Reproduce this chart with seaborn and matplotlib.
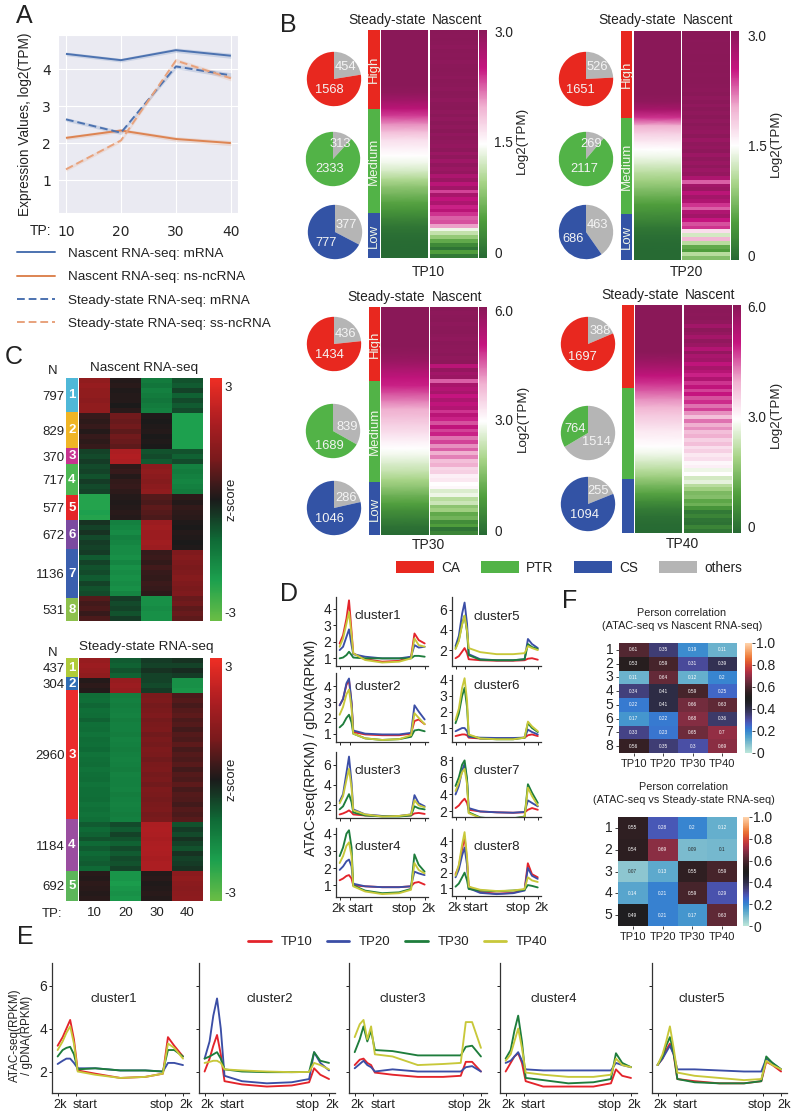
import numpy as np
import pandas as pd
import seaborn as sns
import matplotlib.pyplot as plt
from matplotlib.colors import LinearSegmentedColormap
from matplotlib.lines import Line2D
from matplotlib.patches import Patch

sns.set_style('white')
plt.rcParams['font.family'] = ['Liberation Sans', 'DejaVu Sans']
plt.rcParams['text.color'] = '#222222'
plt.rcParams['axes.labelcolor'] = '#222222'
plt.rcParams['xtick.color'] = '#222222'
plt.rcParams['ytick.color'] = '#222222'

W, H = 800, 1118

### Panel A ###
tp_values = [10, 20, 30, 40]
a_nascent_mrna = [4.41, 4.24, 4.51, 4.36]
a_nascent_ncrna = [2.14, 2.34, 2.11, 2.0]
a_steady_mrna = [2.64, 2.28, 4.07, 3.83]
a_steady_ncrna = [1.29, 2.07, 4.23, 3.75]
a_band = [0.05, 0.05, 0.06, 0.07]
a_labels = ['Nascent RNA-seq: mRNA', 'Nascent RNA-seq: ns-ncRNA',
            'Steady-state RNA-seq: mRNA', 'Steady-state RNA-seq: ss-ncRNA']

### Panel B ###
tp_names = ['TP10', 'TP20', 'TP30', 'TP40']
# [others, coloured] per expression tier (High, Medium, Low)
b_pies = {
    'TP10': [[454, 1568], [313, 2333], [377, 777]],
    'TP20': [[526, 1651], [269, 2117], [463, 686]],
    'TP30': [[436, 1434], [839, 1689], [286, 1046]],
    'TP40': [[388, 1697], [1514, 764], [255, 1094]],
}
b_max = {'TP10': 3.0, 'TP20': 3.0, 'TP30': 6.0, 'TP40': 6.0}
b_steady = {
    'TP10': [3, 3, 3, 3, 3, 3, 3, 3, 2.95, 2.8, 2.6, 2.35, 2.1, 1.9, 1.7, 1.6, 1.5, 1.4, 1.25, 1.05,
             0.85, 0.7, 0.55, 0.4, 0.25, 0.12, 0.05, 0.02, 0, 0],
    'TP20': [3, 3, 3, 3, 3, 3, 3, 3, 3, 2.95, 2.75, 2.4, 2.0, 1.8, 1.65, 1.5, 1.4, 1.25, 1.1, 0.95,
             0.8, 0.65, 0.5, 0.38, 0.25, 0.12, 0.05, 0.02, 0, 0],
    'TP30': [6, 6, 6, 6, 6, 6, 5.9, 5.7, 5.4, 5.1, 4.9, 4.6, 4.3, 4.0, 3.8, 3.6, 3.4, 3.2, 3.0, 2.8,
             2.55, 2.3, 2.0, 1.7, 1.35, 1.05, 0.7, 0.4, 0.15, 0],
    'TP40': [6, 6, 6, 6, 6, 6, 6, 5.75, 5.45, 5.1, 4.8, 4.5, 4.2, 3.95, 3.7, 3.5, 3.3, 3.15, 3.0, 2.8,
             2.5, 2.2, 1.85, 1.45, 1.1, 0.7, 0.35, 0.12, 0.03, 0],
}
b_nascent = {
    'TP10': [3.0, 2.98, 3.0, 2.98, 2.96, 3.0, 2.98, 3.0, 2.96, 2.98, 3.0, 2.98, 2.96, 3.0, 2.98,
             2.96, 3.0, 2.98, 2.95, 2.98, 3.0, 2.95, 2.98, 2.93, 2.98, 2.95, 3.0, 2.92, 2.97, 2.94,
             2.9, 2.96, 2.85, 2.93, 2.82, 2.92, 2.85, 2.9, 2.7, 2.85, 2.6, 2.8, 2.35, 2.75, 2.55,
             2.7, 2.45, 2.6, 2.4, 2.25, 2.3, 2.05, 1.4, 1.15, 0.9, 0.6, 0.3, 0.1, 0.5, 0.15],
    'TP20': [3.0, 3.0, 2.98, 3.0, 3.0, 2.98, 3.0, 3.0, 2.98, 3.0, 3.0, 2.98, 3.0, 3.0, 2.98,
             2.97, 3.0, 2.95, 2.98, 2.94, 2.98, 2.95, 2.98, 2.94, 2.98, 2.95, 2.9, 2.97, 2.87, 2.95,
             2.9, 2.96, 2.84, 2.93, 2.87, 2.94, 2.84, 2.9, 2.7, 2.25, 2.78, 2.85, 2.6, 2.78, 2.68,
             2.4, 2.25, 2.68, 2.8, 2.5, 2.3, 2.4, 1.7, 1.25, 1.95, 1.1, 0.6, 0.5, 1.1, 0.8],
    'TP30': [6.0, 5.95, 5.97, 6.0, 5.92, 5.97, 6.0, 5.95, 5.9, 5.97, 5.95, 5.92, 5.97, 5.9, 5.95,
             5.2, 5.8, 5.6, 5.7, 4.5, 5.5, 5.3, 5.5, 5.0, 5.4, 5.1, 5.3, 4.8, 5.2, 4.9,
             4.6, 5.1, 4.7, 4.9, 4.4, 4.7, 4.2, 4.5, 4.0, 4.3, 3.8, 4.0, 3.5, 3.6, 3.2,
             3.3, 3.0, 3.1, 2.6, 2.8, 2.2, 2.4, 1.7, 1.9, 1.2, 1.4, 0.7, 1.0, 0.2, 0.5],
    'TP40': [5.95, 5.97, 5.95, 5.97, 5.9, 5.6, 5.95, 5.8, 5.55, 5.88, 5.7, 5.3, 5.8, 5.45, 5.6,
             5.1, 5.5, 5.25, 4.9, 5.35, 4.8, 5.1, 4.7, 5.0, 4.6, 4.85, 4.4, 4.7, 4.2, 3.8,
             4.4, 4.0, 4.2, 3.8, 4.0, 3.6, 3.8, 3.4, 3.6, 3.3, 3.4, 3.1, 3.2, 2.8, 3.0,
             2.5, 2.7, 2.2, 1.9, 1.5, 1.6, 1.15, 1.35, 0.8, 0.3, 0.5, 0.2, 0.15, 0.5, 0.25],
}
b_cmap_colors = ['#276a33', '#4f9e3c', '#a8d488', '#ffffff', '#f0b0d0', '#c6147f', '#8a1858']

### Panel C ###
c_nascent_n = [797, 829, 370, 717, 577, 672, 1136, 531]
c_nascent_tp10 = [1.4, 1.5, 1.4, 1.4, 1.3, 1.4, 1.4, 0.3, 0.2, 0.3, 0.1, 0.3, 0.2, 0.3,
                  -0.5, -0.6, -0.4, -0.6, -0.5, -0.7, -0.4, -0.6, -0.5, -2.1, -2.1, -2.1, -2.0, -2.1,
                  -0.3, -0.5, -0.3, -0.6, -0.4, -0.5, -0.4, -0.8, -0.5, -0.7, -0.6, -0.8, -0.5, -0.7, -0.6,
                  0.6, 0.4, 0.5, 0.3, 0.5]
c_nascent_tp20 = [0.1, 0.15, 0.05, 0.1, 0.1, 0.0, 0.15, 0.9, 0.8, 0.9, 0.7, 0.9, 0.8, 0.7,
                  1.9, 2.0, 1.9, 0.2, 0.3, 0.1, 0.25, 0.3, 0.2, 0.1, 0.05, 0.1, 0.15, 0.1,
                  -1.4, -1.5, -1.6, -1.4, -1.5, -1.6, -1.6, -1.7, -1.5, -1.7, -1.6, -1.7, -1.6, -1.7, -1.5,
                  -0.4, -0.6, -0.5, -0.7, -0.4]
c_nascent_tp30 = [-1.3, -1.2, -1.4, -1.3, -1.2, -1.3, -1.4, 0.05, 0.0, 0.05, 0.1, 0.0, 0.05, 0.0,
                  -0.7, -0.6, -0.8, 1.3, 1.4, 1.3, 1.2, 1.3, 1.4, 0.6, 0.5, 0.7, 0.6, 0.5,
                  1.6, 1.7, 1.6, 1.6, 1.7, 1.6, 0.3, 0.35, 0.25, 0.4, 0.3, 0.25, 0.35, 0.3, 0.2,
                  -1.7, -1.7, -1.6, -1.7, -1.7]
c_nascent_tp40 = [-0.7, -0.8, -0.5, -0.9, -0.6, -0.8, -0.6, -2.0, -2.0, -2.0, -2.0, -2.0, -2.0, -2.0,
                  -0.7, -0.9, -0.6, -1.4, -1.3, -1.4, -1.5, -1.4, -1.3, 0.2, 0.1, 0.25, 0.2, 0.15,
                  0.05, 0.0, 0.1, 0.05, 0.0, 0.05, 1.1, 1.2, 1.1, 1.0, 1.1, 1.2, 1.1, 1.0, 1.1,
                  0.8, 0.9, 0.7, 0.8, 0.7]
c_nascent_colors = ['#4fb8d8', '#f0b525', '#c7338f', '#4cb752', '#e42527', '#7b4aa0', '#3a5fae', '#8dc04c']

c_steady_n = [437, 304, 2960, 1184, 692]
c_steady_tp10 = [1.5, 1.6, 1.5, 1.4, 0.1, 0.2, 0.1,
                 -1.05, -1.1, -0.95, -1.1, -1.05, -0.9, -1.1, -1.05, -1.15, -1.05, -1.1, -1.0, -1.15,
                 -1.1, -1.05, -1.15, -1.1, -1.05, -1.15, -1.1, -1.1, -1.05, -1.15, -1.1, -1.15, -1.1,
                 -0.8, -1.0, -0.9, -0.7, -1.0, -0.8, -1.0, -0.9, -0.8, -1.0,
                 0.15, 0.1, 0.2, 0.15, 0.1, 0.15]
c_steady_tp20 = [-0.8, -0.9, -0.7, -0.9, 1.5, 1.6, 1.5,
                 -1.35, -1.4, -1.35, -1.4, -1.45, -1.35, -1.4, -1.4, -1.35, -1.45, -1.4, -1.35, -1.4,
                 -1.45, -1.4, -1.35, -1.45, -1.4, -1.4, -1.45, -1.35, -1.4, -1.45, -1.4, -1.35, -1.4,
                 -0.6, -0.8, -0.5, -0.7, -0.9, -0.6, -0.8, -0.6, -0.7, -0.5,
                 -1.8, -1.8, -1.9, -1.8, -1.7, -1.8]
c_steady_tp30 = [-0.4, -0.5, -0.3, -0.5, -0.5, -0.6, -0.4,
                 1.0, 1.05, 0.95, 1.0, 1.1, 0.95, 1.0, 1.05, 0.9, 1.0, 0.95, 1.05, 1.0,
                 0.9, 1.0, 1.05, 0.95, 1.0, 0.9, 1.05, 1.0, 0.95, 1.0, 1.05, 0.95, 1.0,
                 1.9, 1.95, 1.9, 1.85, 1.9, 1.95, 1.9, 1.85, 1.9, 1.9,
                 0.1, 0.15, 0.05, 0.1, 0.15, 0.1]
c_steady_tp40 = [-0.3, -0.5, -0.2, -0.4, -1.7, -1.7, -1.8,
                 0.5, 0.6, 0.45, 0.6, 0.7, 0.5, 0.6, 0.4, 0.6, 0.5, 0.7, 0.45, 0.6,
                 0.5, 0.65, 0.4, 0.6, 0.5, 0.7, 0.45, 0.6, 0.55, 0.4, 0.6, 0.5, 0.65,
                 -0.7, -0.4, -0.6, -0.3, -0.5, -0.7, -0.3, -0.5, -0.4, -0.3,
                 1.3, 1.4, 1.3, 1.25, 1.3, 1.35]
c_steady_colors = ['#b0cb3a', '#2f6db4', '#ea2c2c', '#9a4ea0', '#5cb65a']
c_cmap_colors = ['#6abd45', '#1ca04e', '#0f6a36', '#1a1a1a', '#7a1a1c', '#b01e22', '#ee2e24']

### Panels D and E: x is percent along the scaled region ###
d_profile_x = [0, 4, 8, 11, 14, 16, 30, 50, 70, 84, 88, 93, 100]
e_profile_x = [0, 4, 7, 10, 13, 16, 30, 50, 70, 84, 88, 93, 100]
tp_colors = ['#e3242b', '#3b4ea6', '#1e7d3c', '#c8c83a']

d_cluster1 = [[1.9, 2.4, 3.4, 4.5, 2.6, 1.3, 0.95, 0.8, 0.85, 1.1, 2.5, 2.1, 1.9],
              [1.5, 1.7, 2.3, 2.75, 1.8, 1.25, 1.1, 1.0, 1.0, 1.1, 1.8, 1.65, 1.7],
              [1.0, 1.05, 1.2, 1.4, 1.2, 1.05, 1.0, 1.0, 1.0, 1.0, 1.15, 1.15, 1.1],
              [1.7, 2.2, 3.1, 3.8, 2.4, 1.3, 0.9, 0.75, 0.8, 1.0, 2.2, 1.8, 1.7]]
d_cluster2 = [[2.8, 3.2, 4.1, 4.4, 2.9, 1.1, 0.95, 0.9, 0.9, 1.0, 1.8, 1.9, 1.6],
              [2.8, 3.2, 4.2, 4.5, 3.0, 1.2, 1.0, 0.95, 0.95, 1.05, 2.8, 2.4, 1.9],
              [1.4, 1.6, 2.0, 2.2, 1.7, 1.0, 0.7, 0.6, 0.65, 0.8, 1.2, 1.25, 1.15],
              [2.2, 2.7, 3.5, 3.8, 2.6, 1.0, 0.7, 0.6, 0.65, 0.9, 2.3, 2.0, 1.6]]
d_cluster3 = [[1.1, 1.2, 1.35, 1.5, 1.3, 1.1, 1.0, 0.95, 0.95, 1.0, 1.2, 1.25, 1.15],
              [2.4, 3.1, 5.2, 6.8, 4.2, 1.6, 1.1, 0.95, 0.95, 1.1, 3.0, 2.2, 1.9],
              [1.6, 1.9, 2.6, 3.1, 2.3, 1.3, 1.0, 0.9, 0.9, 1.0, 1.9, 1.7, 1.6],
              [2.2, 2.9, 4.5, 5.6, 3.7, 1.5, 1.1, 0.9, 0.95, 1.1, 2.5, 2.0, 1.8]]
d_cluster4 = [[1.3, 1.4, 1.55, 1.6, 1.4, 1.0, 0.95, 0.9, 0.9, 0.95, 1.15, 1.2, 1.05],
              [1.9, 2.1, 2.4, 2.5, 2.1, 1.1, 0.95, 0.9, 0.9, 0.95, 1.8, 1.7, 1.6],
              [2.7, 3.2, 4.0, 4.2, 3.2, 1.0, 0.7, 0.55, 0.6, 0.8, 2.8, 2.2, 1.8],
              [2.3, 2.7, 3.3, 3.5, 2.7, 0.95, 0.65, 0.5, 0.55, 0.75, 2.3, 1.9, 1.7]]
d_cluster5 = [[1.2, 1.4, 1.85, 2.2, 1.7, 1.1, 1.0, 0.95, 0.95, 1.0, 1.15, 1.2, 1.05],
              [2.4, 3.4, 5.6, 6.7, 4.6, 1.6, 1.1, 1.0, 1.0, 1.1, 3.1, 2.6, 2.2],
              [2.2, 3.0, 4.6, 5.4, 3.8, 1.5, 1.05, 1.0, 1.0, 1.1, 2.6, 2.3, 2.1],
              [2.1, 2.9, 4.5, 5.4, 3.9, 2.2, 1.8, 1.6, 1.6, 1.7, 2.4, 2.2, 2.0]]
d_cluster6 = [[0.5, 0.55, 0.6, 0.6, 0.55, 0.4, 0.35, 0.35, 0.35, 0.4, 0.55, 0.6, 0.5],
              [0.8, 0.9, 1.0, 1.0, 0.8, 0.45, 0.4, 0.38, 0.38, 0.4, 0.9, 0.75, 0.6],
              [1.3, 1.9, 3.0, 3.5, 2.3, 0.55, 0.35, 0.3, 0.3, 0.4, 1.3, 1.0, 0.75],
              [1.5, 2.2, 3.5, 4.1, 2.7, 0.6, 0.35, 0.3, 0.3, 0.4, 1.4, 1.1, 0.8]]
d_cluster7 = [[2.4, 2.7, 3.2, 3.5, 3.0, 2.2, 2.0, 1.9, 1.85, 1.9, 2.2, 2.4, 2.2],
              [4.0, 5.0, 6.8, 7.6, 5.6, 2.4, 2.0, 1.9, 1.85, 1.95, 3.3, 3.0, 2.6],
              [5.0, 6.0, 7.5, 8.0, 5.8, 1.9, 1.3, 1.1, 1.2, 1.4, 5.2, 4.2, 3.0],
              [4.4, 5.4, 6.6, 7.0, 5.2, 1.8, 1.25, 1.05, 1.15, 1.35, 4.8, 3.8, 2.7]]
d_cluster8 = [[1.9, 2.4, 3.5, 4.3, 2.8, 1.1, 0.75, 0.65, 0.7, 0.9, 2.6, 1.9, 1.7],
              [1.7, 2.2, 3.1, 3.6, 2.5, 1.0, 0.7, 0.62, 0.68, 0.85, 2.3, 1.8, 1.6],
              [1.1, 1.3, 1.7, 2.0, 1.5, 0.95, 0.85, 0.8, 0.85, 0.9, 1.2, 1.15, 1.05],
              [1.8, 2.5, 3.8, 4.6, 3.0, 1.1, 0.9, 0.82, 0.85, 0.95, 1.7, 1.5, 1.4]]

e_cluster1 = [[3.2, 3.6, 4.0, 4.4, 3.5, 2.05, 1.9, 1.7, 1.75, 1.9, 3.6, 3.2, 2.7],
              [2.35, 2.5, 2.6, 2.6, 2.4, 2.15, 2.15, 2.05, 2.05, 2.0, 2.4, 2.4, 2.3],
              [2.7, 3.0, 3.1, 3.15, 2.8, 2.1, 2.15, 2.05, 2.05, 2.0, 3.0, 3.0, 2.7],
              [3.0, 3.4, 3.8, 4.1, 3.3, 2.0, 1.85, 1.7, 1.75, 1.9, 3.3, 3.1, 2.6]]
e_cluster2 = [[2.0, 2.6, 3.2, 3.7, 2.8, 1.55, 1.4, 1.3, 1.35, 1.5, 2.15, 1.85, 1.65],
              [2.6, 3.4, 4.6, 5.4, 4.0, 1.8, 1.55, 1.45, 1.5, 1.65, 2.9, 2.4, 2.05],
              [2.6, 2.7, 2.8, 2.9, 2.6, 2.1, 2.0, 1.97, 1.97, 1.98, 2.9, 2.5, 2.4],
              [2.4, 2.45, 2.5, 2.5, 2.4, 2.1, 2.05, 2.0, 1.97, 1.98, 2.4, 2.3, 2.1]]
e_cluster3 = [[2.3, 2.55, 2.6, 2.4, 2.3, 1.95, 1.85, 1.75, 1.75, 1.8, 2.45, 2.45, 2.0],
              [2.15, 2.35, 2.5, 2.3, 2.2, 2.0, 2.1, 2.0, 2.0, 2.0, 2.2, 2.25, 2.0],
              [2.9, 3.5, 4.1, 3.4, 3.9, 3.0, 2.95, 2.75, 2.75, 2.75, 3.15, 3.2, 2.7],
              [3.6, 4.2, 4.4, 3.5, 4.1, 2.8, 2.7, 2.3, 2.35, 2.4, 4.3, 4.3, 3.1]]
e_cluster4 = [[2.0, 2.4, 2.7, 2.85, 2.4, 1.55, 1.3, 1.3, 1.3, 1.45, 2.1, 1.8, 1.7],
              [2.4, 2.5, 2.7, 2.9, 2.5, 2.1, 2.05, 2.05, 2.05, 2.05, 2.4, 2.3, 2.2],
              [2.6, 3.0, 3.9, 4.6, 3.4, 1.7, 1.6, 1.45, 1.5, 1.65, 2.85, 2.4, 2.2],
              [2.5, 2.8, 3.4, 4.0, 3.1, 1.95, 1.85, 1.75, 1.75, 1.85, 2.6, 2.3, 2.2]]
e_cluster5 = [[2.3, 2.6, 3.0, 3.3, 2.8, 1.65, 1.55, 1.45, 1.45, 1.55, 2.45, 2.3, 2.0],
              [2.3, 2.6, 2.9, 3.2, 2.8, 2.1, 2.1, 2.05, 2.0, 2.0, 2.6, 2.4, 2.1],
              [2.3, 2.7, 3.2, 3.6, 2.9, 1.65, 1.5, 1.45, 1.45, 1.55, 2.7, 2.4, 2.1],
              [2.3, 2.8, 3.4, 4.1, 3.1, 1.95, 1.8, 1.7, 1.6, 1.65, 2.5, 2.3, 2.1]]

### Panel F ###
f_nascent = [[0.61, 0.35, 0.19, 0.11], [0.53, 0.59, 0.31, 0.39], [0.11, 0.64, 0.12, 0.2],
             [0.34, 0.41, 0.59, 0.25], [0.22, 0.41, 0.66, 0.63], [0.17, 0.22, 0.68, 0.36],
             [0.33, 0.23, 0.65, 0.7], [0.56, 0.35, 0.3, 0.69]]
f_steady = [[0.55, 0.28, 0.2, 0.12], [0.54, 0.69, 0.09, 0.1], [0.07, 0.13, 0.55, 0.59],
            [0.14, 0.21, 0.59, 0.29], [0.49, 0.21, 0.17, 0.63]]


def add_ax(left, top, right, bottom):
    # axes from a pixel box measured from the top left of the figure
    return fig.add_axes([left / W, 1 - bottom / H, (right - left) / W, (bottom - top) / H])


def px_text(x, y, s, **kw):
    kw.setdefault('ha', 'center')
    kw.setdefault('va', 'center')
    return fig.text(x / W, 1 - y / H, s, **kw)


def stacked_tiers(ax, sizes, colors):
    # vertical stack of coloured blocks, each as tall as its count
    ax.bar([0] * len(sizes), sizes, bottom=np.cumsum([0] + list(sizes[:-1])), width=1, color=colors,
           edgecolor='none', linewidth=0)
    ax.set_xlim(-0.5, 0.5)
    ax.set_ylim(sum(sizes), 0)
    ax.set_xticks([])
    ax.set_frame_on(False)


fig = plt.figure(figsize=(W / 100, H / 100), dpi=100)

for letter, x, y in [('A', 24, 16), ('B', 288, 25), ('C', 14, 357), ('D', 289, 594), ('E', 25, 937), ('F', 570, 601)]:
    px_text(x, y, letter, fontsize=18)

### Panel A ###
with sns.axes_style('darkgrid'):
    ax_a = add_ax(58, 35, 238, 213)
a_series = [a_nascent_mrna, a_nascent_ncrna, a_steady_mrna, a_steady_ncrna]
a_colors = ['#4c72b0', '#dd8452', '#4c72b0', '#e8a27c']
a_df = pd.DataFrame({'TP': tp_values * 4, 'value': sum(a_series, []),
                     'series': np.repeat(a_labels, 4)})
sns.lineplot(data=a_df, x='TP', y='value', hue='series', style='series', palette=dict(zip(a_labels, a_colors)),
             dashes=dict(zip(a_labels, [(1, 0), (1, 0), (4, 2), (4, 2)])), errorbar=None, legend=False,
             linewidth=1.4, ax=ax_a)
for vals, c in zip(a_series, a_colors):
    ax_a.fill_between(tp_values, np.array(vals) - a_band, np.array(vals) + a_band, color=c, alpha=0.2, lw=0)
ax_a.set(xlim=(8.55, 41.3), ylim=(0.11, 4.92), xticks=tp_values, yticks=[1, 2, 3, 4], xlabel='', ylabel='')
ax_a.tick_params(labelsize=10, length=0, pad=5)
ax_a.tick_params(axis='x', pad=9)
px_text(25, 124, 'Expression Values, log2(TPM)', rotation=90, fontsize=9.8)
px_text(41, 231, 'TP:', fontsize=10)
a_handles = [Line2D([], [], color=c, lw=1.4, ls=ls) for c, ls in zip(a_colors, ['-', '-', (0, (4, 2)), (0, (4, 2))])]
fig.legend(a_handles, a_labels, loc='upper left', bbox_to_anchor=(14 / W, 1 - 245 / H), frameon=False, fontsize=9.7,
           handlelength=2.85, handletextpad=0.95, labelspacing=0.8, borderpad=0.2, borderaxespad=0)

### Panel B ###
b_layout = {
    'TP10': dict(bar=(368, 380), ss=(381, 428), na=(430, 478), cb=(479, 487), y=(30, 258),
                 pies=[(334, 79), (333, 159), (335, 232)], steady=387, nascent=457, head=20,
                 ticks=(33, 143, 254), tickx=494, labx=522, laby=140, name=(428, 272)),
    'TP20': dict(bar=(621, 632), ss=(634, 681), na=(682, 730), cb=(731, 739), y=(31, 260),
                 pies=[(586, 79), (586, 159), (586, 232)], steady=637, nascent=708, head=20,
                 ticks=(37, 147, 257), tickx=748, labx=776, laby=143, name=(686, 272)),
    'TP30': dict(bar=(369, 380), ss=(381, 429), na=(430, 478), cb=(479, 487), y=(307, 535),
                 pies=[(334, 344), (333, 431), (334, 508)], steady=386, nascent=457, head=297,
                 ticks=(312, 421, 532), tickx=494, labx=523, laby=418, name=(428, 545)),
    'TP40': dict(bar=(622, 634), ss=(635, 682), na=(684, 732), cb=(733, 741), y=(305, 533),
                 pies=[(588, 344), (588, 433), (588, 504)], steady=640, nascent=710, head=295,
                 ticks=(308, 418, 528), tickx=747, labx=776, laby=414, name=(682, 544)),
}
b_offsets = {
    'TP10': [[(0.44, 0.44), (-0.16, -0.4)], [(0.27, 0.57), (-0.12, -0.36)], [(0.41, 0.27), (-0.34, -0.41)]],
    'TP20': [[(0.41, 0.44), (-0.19, -0.4)], [(0.2, 0.57), (-0.05, -0.36)], [(0.41, 0.27), (-0.46, -0.25)]],
    'TP30': [[(0.42, 0.37), (-0.16, -0.41)], [(0.52, 0.15), (-0.12, -0.54)], [(0.44, 0.37), (-0.16, -0.39)]],
    'TP40': [[(0.44, 0.47), (-0.19, -0.49)], [(0.31, -0.34), (-0.47, 0.16)], [(0.36, 0.46), (-0.14, -0.42)]],
}
tier_colors = ['#e8281f', '#52b347', '#3353a5']
other_color = '#b5b5b5'
tier_names = ['High', 'Medium', 'Low']
b_cmap = LinearSegmentedColormap.from_list('tpm', b_cmap_colors)

for tp in tp_names:
    lay = b_layout[tp]
    top, bottom = lay['y']
    vmax = b_max[tp]

    # pies, others first going clockwise from 12 o'clock
    for i, counts in enumerate(b_pies[tp]):
        cx, cy = lay['pies'][i]
        ax_p = add_ax(cx - 28, cy - 28, cx + 28, cy + 28)
        ax_p.pie(counts, colors=[other_color, tier_colors[i]], startangle=90, counterclock=False,
                 wedgeprops={'linewidth': 0, 'edgecolor': 'none'})
        ax_p.set(xlim=(-1.03, 1.03), ylim=(-1.03, 1.03))
        for val, (dx, dy) in zip(counts, b_offsets[tp][i]):
            ax_p.text(dx, dy, str(val), color='#f4f4f4', fontsize=9.3, ha='center', va='center')

    # tier bar, tiers are as tall as the gene counts
    tier_sizes = [sum(c) for c in b_pies[tp]]
    ax_bar = add_ax(lay['bar'][0], top, lay['bar'][1], bottom)
    stacked_tiers(ax_bar, tier_sizes, tier_colors)
    ax_bar.set_yticks([])
    if tp != 'TP40':
        for name, mid in zip(tier_names, np.cumsum(tier_sizes) - np.array(tier_sizes) / 2):
            ax_bar.text(0, mid, name, rotation=90, color='#eef5e8', fontsize=9.5, ha='center', va='center')

    # steady-state column is smooth, nascent column is streaky
    ax_ss = add_ax(lay['ss'][0], top, lay['ss'][1], bottom)
    ss = np.column_stack([b_steady[tp], b_steady[tp]])
    sns.heatmap(ss, ax=ax_ss, cmap=b_cmap, vmin=0, vmax=vmax, cbar=False, xticklabels=False, yticklabels=False,
                shading='gouraud')
    ax_ss.set(xlim=(0, 1), ylim=(ss.shape[0] - 1, 0))

    ax_na = add_ax(lay['na'][0], top, lay['na'][1], bottom)
    ax_cb = add_ax(lay['cb'][0], top, lay['cb'][1], bottom)
    sns.heatmap(np.array(b_nascent[tp]).reshape(-1, 1), ax=ax_na, cmap=b_cmap, vmin=0, vmax=vmax, cbar_ax=ax_cb,
                xticklabels=False, yticklabels=False)
    ax_cb.set_yticks([])
    for yy, lab in zip(lay['ticks'], [f'{vmax:.1f}', f'{vmax / 2:.1f}', '0']):
        px_text(lay['tickx'], yy, lab, ha='left', fontsize=9.8)

    px_text(lay['steady'], lay['head'], 'Steady-state', fontsize=9.9)
    px_text(lay['nascent'], lay['head'], 'Nascent', fontsize=9.9)
    px_text(lay['labx'], lay['laby'], 'Log2(TPM)', rotation=90, fontsize=9.6)
    px_text(lay['name'][0], lay['name'][1], tp, fontsize=10)

b_handles = [Patch(facecolor=c, edgecolor='none') for c in tier_colors + [other_color]]
fig.legend(b_handles, ['CA', 'PTR', 'CS', 'others'], loc='center', bbox_to_anchor=(569 / W, 1 - 568 / H), ncol=4,
           frameon=False, fontsize=9.8, handlelength=2.8, handleheight=1.0, handletextpad=0.55, columnspacing=1.5,
           borderpad=0, borderaxespad=0)

### Panel C ###
z_cmap = LinearSegmentedColormap.from_list('zscore', c_cmap_colors)


def cluster_heatmap(top, bottom, title, title_x, title_y, n_y, counts, colors, columns, show_tp):
    ax_bar = add_ax(66, top, 78, bottom)
    stacked_tiers(ax_bar, counts, colors)
    mids = np.cumsum(counts) - np.array(counts) / 2
    ax_bar.set_yticks(mids, [str(n) for n in counts], fontsize=9.5)
    ax_bar.tick_params(axis='y', length=0, pad=1)
    for i, mid in enumerate(mids):
        ax_bar.text(0, mid, str(i + 1), color='white', fontsize=9.5, fontweight='bold', ha='center', va='center')

    ax_hm = add_ax(79, top, 203, bottom)
    ax_cb = add_ax(210, top, 222, bottom)
    sns.heatmap(np.array(columns).T, ax=ax_hm, cmap=z_cmap, vmin=-3, vmax=3, cbar_ax=ax_cb,
                xticklabels=tp_values if show_tp else False, yticklabels=False)
    ax_hm.tick_params(axis='x', length=0, pad=4, labelsize=9.5)
    ax_cb.set_yticks([2.8, -2.8], ['3', '-3'], fontsize=9.5)
    ax_cb.tick_params(axis='y', length=0, pad=2)
    px_text(232, (top + bottom) / 2, 'z-score', rotation=90, fontsize=9.5)
    px_text(title_x, title_y, title, fontsize=9.7)
    px_text(53, n_y, 'N', fontsize=9.5)


cluster_heatmap(378, 621, 'Nascent RNA-seq', 144, 368, 371, c_nascent_n, c_nascent_colors,
                [c_nascent_tp10, c_nascent_tp20, c_nascent_tp30, c_nascent_tp40], False)
cluster_heatmap(658, 901, 'Steady-state RNA-seq', 146, 647, 653, c_steady_n, c_steady_colors,
                [c_steady_tp10, c_steady_tp20, c_steady_tp30, c_steady_tp40], True)
px_text(52, 914, 'TP:', fontsize=9.5)


def profile_axes(box, profile_x, lines, ylim, yticks, xlim, ticks, show_y=True):
    ax = add_ax(*box)
    for vals, c in zip(lines, tp_colors):
        sns.lineplot(x=profile_x, y=vals, color=c, linewidth=1.35, errorbar=None, ax=ax)
    ax.set(xlim=xlim, ylim=ylim, xlabel='', ylabel='')
    ax.set_yticks(yticks)
    if not show_y:
        ax.set_yticklabels([])
    ax.set_xticks(ticks)
    ax.set_xticklabels([])
    ax.tick_params(axis='both', which='major', length=2, width=0.7, pad=1.5, left=True, bottom=True)
    sns.despine(ax=ax)
    for side in ['left', 'bottom']:
        ax.spines[side].set_linewidth(0.9)
        ax.spines[side].set_color('#333333')
    return ax


def bottom_labels(ax, positions, size):
    ax.set_xticks(positions, ['2k', 'start', 'stop', '2k'], minor=True, fontsize=size)
    ax.tick_params(axis='x', which='minor', length=0, pad=4)


### Panel D ###
d_boxes = [(336, 597, 428, 666), (336, 673, 428, 742), (336, 752, 428, 818), (336, 828, 428, 897),
           (452, 597, 541, 666), (452, 675, 541, 742), (452, 757, 541, 817), (452, 829, 541, 896)]
d_ylims = [(0.54, 4.7), (0.47, 4.85), (0.75, 7.25), (0.33, 4.33), (0.43, 7.25), (0.13, 4.3), (1.35, 8.4), (0.5, 4.8)]
d_yticks = [[1, 2, 3, 4], [1, 2, 3, 4], [2, 4, 6], [1, 2, 3, 4], [2, 4, 6], [1, 2, 3, 4], [2, 4, 6, 8], [1, 2, 3, 4]]
d_lines = [d_cluster1, d_cluster2, d_cluster3, d_cluster4, d_cluster5, d_cluster6, d_cluster7, d_cluster8]
d_title_pos = [(378, 616), (378, 687), (378, 771), (378, 847), (497, 617), (497, 686), (497, 771), (497, 847)]
for i in range(8):
    ax_d = profile_axes(d_boxes[i], d_profile_x, d_lines[i], d_ylims[i], d_yticks[i], (-4.3, 103.9),
                        [0, 11.7, 83.3, 100])
    ax_d.tick_params(axis='y', labelsize=10)
    if i in (3, 7):
        bottom_labels(ax_d, [-1.2, 24, 76, 104], 9.5)
    px_text(d_title_pos[i][0], d_title_pos[i][1], f'cluster{i + 1}', fontsize=9.5)
px_text(311, 748, 'ATAC-seq(RPKM) / gDNA(RPKM)', rotation=90, fontsize=10.4)

### Panel E ###
e_boxes = [(52, 963, 189, 1093), (199, 963, 335, 1093), (349, 963, 487, 1093), (500, 963, 637, 1093),
           (652, 963, 787, 1093)]
e_lines = [e_cluster1, e_cluster2, e_cluster3, e_cluster4, e_cluster5]
e_title_x = [114, 270, 403, 554, 702]
for i in range(5):
    ax_e = profile_axes(e_boxes[i], e_profile_x, e_lines[i], (1, 7.05), [2, 4, 6], (-4.5, 104.8),
                        [0, 14.8, 85.4, 100], show_y=i == 0)
    ax_e.tick_params(axis='y', labelsize=10)
    bottom_labels(ax_e, [2.1, 22.2, 83, 102.4], 9.2)
    px_text(e_title_x[i], 999, f'cluster{i + 1}', fontsize=9.5)
px_text(21, 1035, 'ATAC-seq(RPKM)\n/ gDNA(RPKM)', rotation=90, fontsize=8.4, linespacing=1.0)
e_handles = [Line2D([], [], color=c, lw=2) for c in tp_colors]
fig.legend(e_handles, tp_names, loc='center', bbox_to_anchor=(398 / W, 1 - 942 / H), ncol=4, frameon=False,
           fontsize=9.5, handlelength=1.7, handletextpad=0.75, columnspacing=1.1, borderpad=0, borderaxespad=0)

### Panel F ###
for data, box, cb, rows, title_y, title_x, title in [
    (f_nascent, (619, 643, 737, 753), (745, 752), range(1, 9), 613, 682, '(ATAC-seq vs Nascent RNA-seq)'),
    (f_steady, (618, 817, 737, 926), (743, 749), range(1, 6), 787, 684, '(ATAC-seq vs Steady-state RNA-seq)'),
]:
    ax_f = add_ax(*box)
    ax_cb = add_ax(cb[0], box[1], cb[1], box[3])
    sns.heatmap(np.array(data), ax=ax_f, cmap='icefire', vmin=0, vmax=1, cbar_ax=ax_cb, annot=True, fmt='g',
                annot_kws={'size': 3.4}, xticklabels=tp_names, yticklabels=list(rows))
    ax_f.tick_params(axis='y', labelsize=10, labelrotation=0, length=2, width=0.6, pad=2, left=True)
    ax_f.tick_params(axis='x', labelsize=8, labelrotation=0, length=2, width=0.6, pad=2, bottom=True)
    ax_cb.set_yticks([0, 0.2, 0.4, 0.6, 0.8, 1.0], ['0', '0.2', '0.4', '0.6', '0.8', '1.0'])
    ax_cb.tick_params(axis='y', labelsize=10, length=2, width=0.6, pad=1, right=True)
    px_text(title_x, title_y, 'Person correlation', fontsize=7.8)
    px_text(title_x, title_y + 13, title, fontsize=7.8)

fig.savefig('out.png', dpi=100)
